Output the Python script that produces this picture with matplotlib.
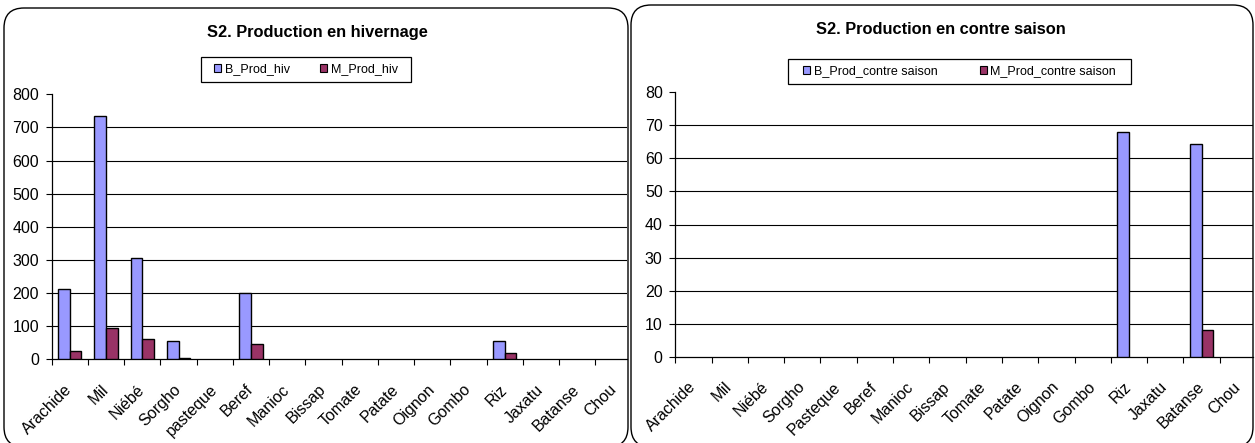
import matplotlib
matplotlib.use("Agg")
import matplotlib.pyplot as plt
from matplotlib.patches import FancyBboxPatch, Rectangle, Patch
import numpy as np

# Data
categories_hiv = ['Arachide', 'Mil', 'Niébé', 'Sorgho', 'pasteque', 'Beref', 'Manioc', 'Bissap',
                  'Tomate', 'Patate', 'Oignon', 'Gombo', 'Riz', 'Jaxatu', 'Batanse', 'Chou']
categories_cs = ['Arachide', 'Mil', 'Niébé', 'Sorgho', 'Pasteque', 'Beref', 'Manioc', 'Bissap',
                 'Tomate', 'Patate', 'Oignon', 'Gombo', 'Riz', 'Jaxatu', 'Batanse', 'Chou']
b_prod_hiv = [211, 736, 307, 55, 0, 200, 0, 0, 0, 0, 0, 0, 56, 0, 0, 0]
m_prod_hiv = [25, 95, 61, 4, 0, 46, 0, 0, 0, 0, 0, 0, 20, 0, 0, 0]
b_prod_cs = [0, 0, 0, 0, 0, 0, 0, 0, 0, 0, 0, 0, 68, 0, 64.5, 0]
m_prod_cs = [0, 0, 0, 0, 0, 0, 0, 0, 0, 0, 0, 0, 0, 0, 8, 0]
yticks_hiv = [0, 100, 200, 300, 400, 500, 600, 700, 800]
yticks_cs = [0, 10, 20, 30, 40, 50, 60, 70, 80]

W, H, DPI = 1255, 443, 100
B_COLOR = '#9999FF'
M_COLOR = '#993366'
plt.rcParams['font.family'] = ['Liberation Sans', 'DejaVu Sans']

fig = plt.figure(figsize=(W / DPI, H / DPI), dpi=DPI)
fig.patch.set_facecolor('white')


def px_box(x0, ytop, x1, ybot):
    """pixel box (y from top) -> figure fraction rect"""
    return [x0 / W, 1 - ybot / H, (x1 - x0) / W, (ybot - ytop) / H]


def panel(x0, ytop, x1, ybot):
    # rounded chart-area border, in inches
    p = FancyBboxPatch((x0 / DPI, (H - ybot) / DPI), (x1 - x0) / DPI, (ybot - ytop) / DPI,
                       boxstyle="round,pad=0,rounding_size=0.2",
                       transform=fig.dpi_scale_trans, facecolor='none',
                       edgecolor='black', linewidth=1.0, zorder=-5)
    fig.patches.append(p)


def draw_chart(rect, cat_px, cats, b_vals, m_vals, yticks, title, title_xy,
               labels, legend_box, colspace):
    ax = fig.add_axes(px_box(*rect))
    ax.set_facecolor('none')
    x = np.arange(len(cats))
    w = 0.32
    hb = ax.bar(x - w / 2, b_vals, w, color=B_COLOR, edgecolor='black', linewidth=1.0, zorder=3)
    hm = ax.bar(x + w / 2, m_vals, w, color=M_COLOR, edgecolor='black', linewidth=1.0, zorder=3)
    # Excel draws nothing for empty values
    for bars in (hb, hm):
        for p in bars.patches:
            if p.get_height() == 0:
                p.set_visible(False)

    ax.set_ylim(yticks[0], yticks[-1])
    ax.set_xlim(-0.5, -0.5 + (rect[2] - rect[0]) / cat_px)
    for yv in yticks[1:-1]:
        ax.axhline(yv, color='black', linewidth=0.8, zorder=1)

    ax.set_yticks(yticks)
    ax.set_yticklabels([str(v) for v in yticks], fontsize=11.5)
    ax.tick_params(axis='y', direction='out', length=4, width=0.8, pad=5)

    ax.set_xticks(x)
    ax.set_xticklabels(cats, rotation=45, ha='right', va='center',
                       rotation_mode='anchor', fontsize=11.5)
    ax.tick_params(axis='x', which='major', length=0, pad=20)
    ax.set_xticks(np.arange(len(cats)) - 0.5, minor=True)
    ax.tick_params(axis='x', which='minor', direction='out', length=4, width=0.8)

    for s in ['top', 'right']:
        ax.spines[s].set_visible(False)
    for s in ['left', 'bottom']:
        ax.spines[s].set_linewidth(0.9)
        ax.spines[s].set_color('black')

    fig.text(title_xy[0] / W, 1 - title_xy[1] / H, title, ha='center', va='center',
             fontsize=11.8, fontweight='bold')

    # legend frame + entries
    lx0, lytop, lx1, lybot = legend_box
    fig.patches.append(Rectangle((lx0 / W, 1 - lybot / H), (lx1 - lx0) / W, (lybot - lytop) / H,
                                 transform=fig.transFigure, facecolor='none',
                                 edgecolor='black', linewidth=0.9, zorder=5))
    handles = [Patch(facecolor=B_COLOR, edgecolor='black', linewidth=0.8),
               Patch(facecolor=M_COLOR, edgecolor='black', linewidth=0.8)]
    ax.legend(handles, labels, ncol=2, loc='center', frameon=False,
              bbox_to_anchor=((lx0 + lx1) / 2 / W, 1 - (lytop + lybot) / 2 / H),
              bbox_transform=fig.transFigure, fontsize=9,
              handlelength=0.55, handleheight=0.55, handletextpad=0.3,
              columnspacing=colspace, borderpad=0.2)
    return ax


panel(4, 8, 628, 447)
panel(631, 5, 1253, 447)

draw_chart((51.7, 94.3, 627, 359.3), 36.25, categories_hiv, b_prod_hiv, m_prod_hiv,
           yticks_hiv, 'S2. Production en hivernage', (317, 33),
           ['B_Prod_hiv', 'M_Prod_hiv'], (201, 57, 411, 82), 2.4)
draw_chart((675.2, 92.3, 1253, 356.7), 36.3, categories_cs, b_prod_cs, m_prod_cs,
           yticks_cs, 'S2. Production en contre saison', (941, 30),
           ['B_Prod_contre saison', 'M_Prod_contre saison'], (788, 59, 1131, 84), 3.4)

fig.savefig('out.png', dpi=DPI)
